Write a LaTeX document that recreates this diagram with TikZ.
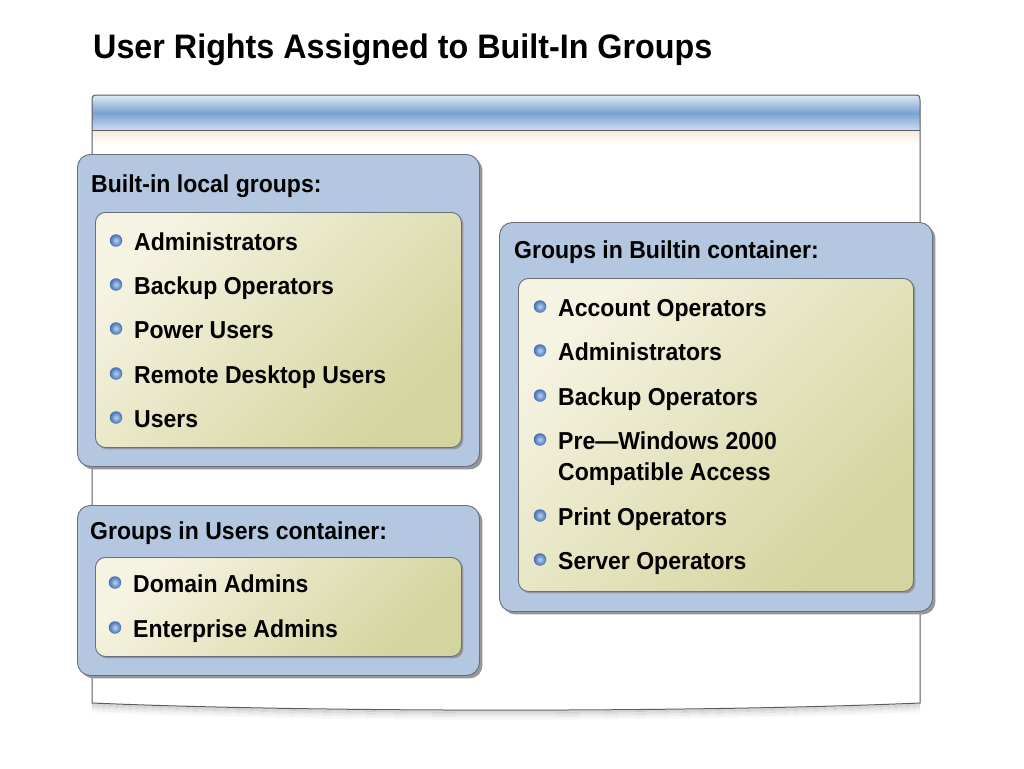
\documentclass[tikz,border=0pt]{standalone}
\usepackage{fontspec}
\setmainfont{Liberation Sans}[FakeStretch=0.94]
\newfontfamily\titlefont{Liberation Sans}[FakeStretch=0.95]
\usetikzlibrary{shadows}
\definecolor{boxblue}{RGB}{180,199,225}
\definecolor{boxedge}{RGB}{105,110,120}
\definecolor{yelA}{RGB}{245,243,225}
\definecolor{yelB}{RGB}{212,212,158}
\definecolor{shadowgray}{RGB}{150,150,155}
\definecolor{frameedge}{RGB}{90,90,95}
\definecolor{hdrTop}{RGB}{228,238,248}
\definecolor{hdrMid}{RGB}{122,162,208}
\definecolor{hdrBot}{RGB}{205,223,242}
\definecolor{peach}{RGB}{246,234,222}
\definecolor{bulletIn}{RGB}{185,212,242}
\definecolor{bulletOut}{RGB}{65,110,178}
\begin{document}
\begin{tikzpicture}[x=1pt,y=-1pt,
  bluebox/.style={draw=boxedge, line width=0.9pt, fill=boxblue, rounded corners=13pt,
    drop shadow={shadow xshift=3pt, shadow yshift=-3pt, fill=shadowgray, opacity=1},
    inner sep=0pt, anchor=north west},
  yelbox/.style={draw=boxedge, line width=0.9pt, rounded corners=10pt,
    shading=axis, top color=yelA, bottom color=yelB, shading angle=45,
    drop shadow={shadow xshift=2pt, shadow yshift=-2pt, fill=shadowgray, opacity=1},
    inner sep=0pt, anchor=north west},
  ball/.style={circle, inner sep=0pt, minimum size=12.5pt, shading=radial, inner color=bulletIn, outer color=bulletOut},
  itemtext/.style={anchor=base west, inner sep=0pt, font=\fontsize{24.5}{28}\selectfont\bfseries},
  headtext/.style={anchor=base west, inner sep=0pt, font=\fontsize{24.5}{28}\selectfont\bfseries},
  titletext/.style={anchor=base west, inner sep=0pt, font=\titlefont\fontsize{34}{40}\selectfont\bfseries}
]
\useasboundingbox (0,0) rectangle (1024,768);
\fill[white] (0,0) rectangle (1024,768);

% title
\node[titletext] (title) at (93,58.7) {User Rights Assigned to Built-In Groups};

% frame bottom shadow
\foreach \d/\o in {1.5/0.16,3/0.12,4.5/0.09,6/0.06,7.5/0.04,9/0.02}{
  \draw[line width=1.6pt, black, opacity=\o] (92,703+\d) .. controls (312,712.5+\d) and (700,712.5+\d) .. (920,703+\d);
}
% frame
\fill[white] (92,703) -- (92,103) .. controls (92,95) .. (100,95) -- (912,95) .. controls (920,95) .. (920,103) -- (920,703) .. controls (700,712.5) and (312,712.5) .. (92,703) -- cycle;
\begin{scope}
  \clip (92,130) -- (92,103) .. controls (92,95) .. (100,95) -- (912,95) .. controls (920,95) .. (920,103) -- (920,130) -- cycle;
  \shade[top color=hdrTop, bottom color=hdrMid] (90,94) rectangle (922,113);
  \shade[top color=hdrMid, bottom color=hdrBot] (90,113) rectangle (922,130.5);
\end{scope}
\shade[top color=peach, bottom color=white] (92.5,130.5) rectangle (919.5,145);
\draw[frameedge, line width=0.8pt] (92,130) -- (920,130);
\draw[frameedge, line width=1pt] (92,703) -- (92,103) .. controls (92,95) .. (100,95) -- (912,95) .. controls (920,95) .. (920,103) -- (920,703) .. controls (700,712.5) and (312,712.5) .. (92,703) -- cycle;

% box 1
\node[bluebox, minimum width=402pt, minimum height=312pt] (box1) at (77,154) {};
\node[headtext] (h1) at (91,192) {Built-in local groups:};
\node[yelbox, minimum width=366pt, minimum height=235pt] (in1) at (95,212) {};
\foreach \n/\y/\t in {1/250/Administrators, 2/294/Backup Operators, 3/338/Power Users, 4/383/Remote Desktop Users, 5/427/Users}{
  \node[ball] (b1\n) at (116,\y-9.5) {};
  \node[itemtext] (t1\n) at (134,\y) {\t};
}

% box 2
\node[bluebox, minimum width=402pt, minimum height=170pt] (box2) at (77,505) {};
\node[headtext] (h2) at (90,539) {Groups in Users container:};
\node[yelbox, minimum width=366pt, minimum height=99pt] (in2) at (95,557) {};
\foreach \n/\y/\t in {1/592/Domain Admins, 2/637/Enterprise Admins}{
  \node[ball] (b2\n) at (115,\y-9.5) {};
  \node[itemtext] (t2\n) at (133,\y) {\t};
}

% box 3
\node[bluebox, minimum width=433pt, minimum height=389pt] (box3) at (499,222) {};
\node[headtext] (h3) at (514,258) {Groups in Builtin container:};
\node[yelbox, minimum width=395pt, minimum height=313pt] (in3) at (518,278) {};
\foreach \n/\y/\t in {1/316/Account Operators, 2/360/Administrators, 3/405/Backup Operators, 4/449/Pre—Windows 2000, 6/525/Print Operators, 7/569/Server Operators}{
  \node[ball] (b3\n) at (540,\y-9.5) {};
  \node[itemtext] (t3\n) at (558,\y) {\t};
}
\node[itemtext] (t35) at (558,480) {Compatible Access};
\end{tikzpicture}
\end{document}
